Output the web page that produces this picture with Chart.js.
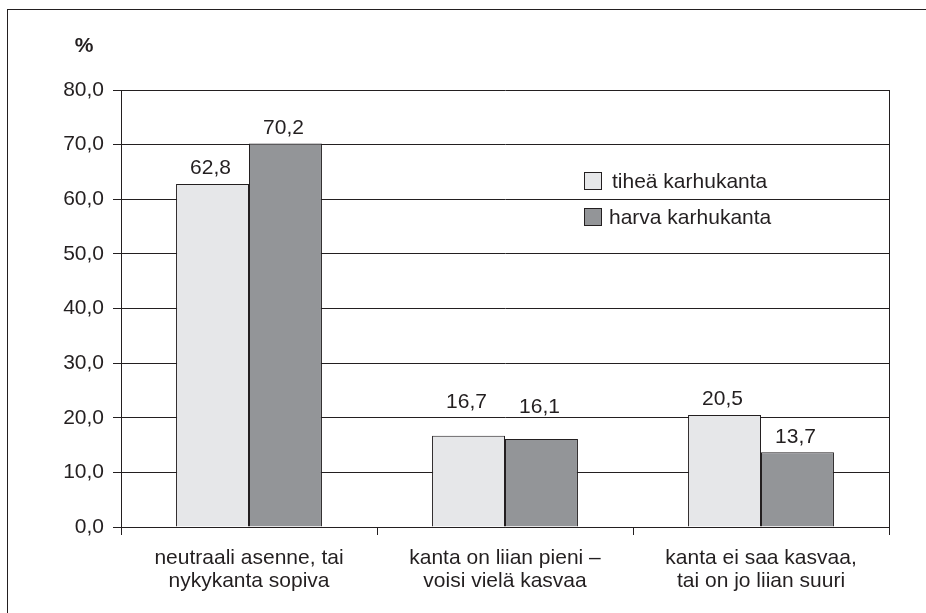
<!DOCTYPE html>
<html>
<head>
<meta charset="utf-8">
<script src="https://cdn.jsdelivr.net/npm/chart.js@4"></script>
<style>
html,body{margin:0;padding:0;background:#fff;}
#wrap{position:relative;width:926px;height:613px;overflow:hidden;}
#frame{position:absolute;left:7px;top:9px;width:940px;height:640px;border:1px solid #231f20;box-sizing:border-box;}
canvas{position:absolute;left:0;top:0;}
</style>
</head>
<body>
<div id="wrap">
<div id="frame"></div>
<canvas id="c" width="926" height="613"></canvas>
</div>
<script>
const categories = [
  ["neutraali asenne, tai", "nykykanta sopiva"],
  ["kanta on liian pieni –", "voisi vielä kasvaa"],
  ["kanta ei saa kasvaa,", "tai on jo liian suuri"]
];
const seriesNames = ["tiheä karhukanta", "harva karhukanta"];
const tiheaValues = [62.8, 16.7, 20.5];
const harvaValues = [70.2, 16.1, 13.7];
const yTicks = [0, 10, 20, 30, 40, 50, 60, 70, 80];
const unitLabel = "%";

const FONT = "'Liberation Sans', Arial, sans-serif";
const FS = 21;
const INK = "#231f20";
const colors = ["#e6e7e9", "#939598"];

const fmt = v => v.toFixed(1).replace('.', ',');

// gap (px) between bar top and label baseline, per dataset / category (style only)
const labelGap = [[10, 28, 10], [10, 26, 9]];

const overlay = {
  id: 'overlay',
  afterDraw(chart) {
    const ctx = chart.ctx;
    const ca = chart.chartArea;
    ctx.save();
    ctx.strokeStyle = INK;
    ctx.lineWidth = 1;
    ctx.beginPath();
    ctx.moveTo(Math.round(ca.right) + 0.5, ca.top);
    ctx.lineTo(Math.round(ca.right) + 0.5, ca.bottom + 8);
    ctx.stroke();
    // value labels
    ctx.fillStyle = INK;
    ctx.font = FS + "px " + FONT;
    ctx.textAlign = "center";
    ctx.textBaseline = "alphabetic";
    chart.data.datasets.forEach((ds, di) => {
      const meta = chart.getDatasetMeta(di);
      meta.data.forEach((bar, i) => {
        ctx.fillText(fmt(ds.data[i]), bar.x - 2, bar.y - labelGap[di][i]);
      });
    });
    // unit label
    ctx.font = "bold " + FS + "px " + FONT;
    ctx.textAlign = "center";
    ctx.textBaseline = "middle";
    ctx.fillText(unitLabel, 84, 46);
    // legend
    const items = [
      {y: 172, tx: 612},
      {y: 208, tx: 609}
    ];
    ctx.font = FS + "px " + FONT;
    ctx.textAlign = "left";
    ctx.textBaseline = "middle";
    seriesNames.forEach((n, i) => {
      ctx.fillStyle = colors[i];
      ctx.fillRect(584, items[i].y, 18, 18);
      ctx.strokeStyle = INK;
      ctx.strokeRect(584.5, items[i].y + 0.5, 17, 17);
      ctx.fillStyle = INK;
      ctx.fillText(n, items[i].tx, items[i].y + 10);
    });
    ctx.restore();
  }
};

new Chart(document.getElementById('c'), {
  type: 'bar',
  data: {
    labels: categories,
    datasets: [
      {label: seriesNames[0], data: tiheaValues, backgroundColor: colors[0], borderColor: INK, borderWidth: 1, categoryPercentage: 0.57, barPercentage: 1},
      {label: seriesNames[1], data: harvaValues, backgroundColor: colors[1], borderColor: INK, borderWidth: 1, categoryPercentage: 0.57, barPercentage: 1}
    ]
  },
  options: {
    responsive: false,
    animation: false,
    devicePixelRatio: 1,
    layout: {padding: {left: 0, top: 90, right: 37, bottom: 0}},
    plugins: {legend: {display: false}, tooltip: {enabled: false}},
    scales: {
      x: {
        offset: true,
        grid: {offset: true, drawOnChartArea: false, drawTicks: true, tickLength: 8, color: INK, lineWidth: 1},
        border: {display: true, color: INK, width: 1},
        ticks: {color: INK, font: {family: FONT, size: FS, lineHeight: 1.1}, padding: 12, maxRotation: 0, autoSkip: false},
        afterFit(s) { s.height = 86; }
      },
      y: {
        min: 0, max: 80,
        afterBuildTicks(s) { s.ticks = yTicks.map(v => ({value: v})); },
        grid: {color: INK, lineWidth: 1, tickLength: 8, drawTicks: true},
        border: {display: true, color: INK, width: 1},
        ticks: {color: INK, font: {family: FONT, size: FS}, padding: 9, callback: v => fmt(v)},
        afterFit(s) { s.width = 121; }
      }
    }
  },
  plugins: [overlay]
});
</script>
</body>
</html>
